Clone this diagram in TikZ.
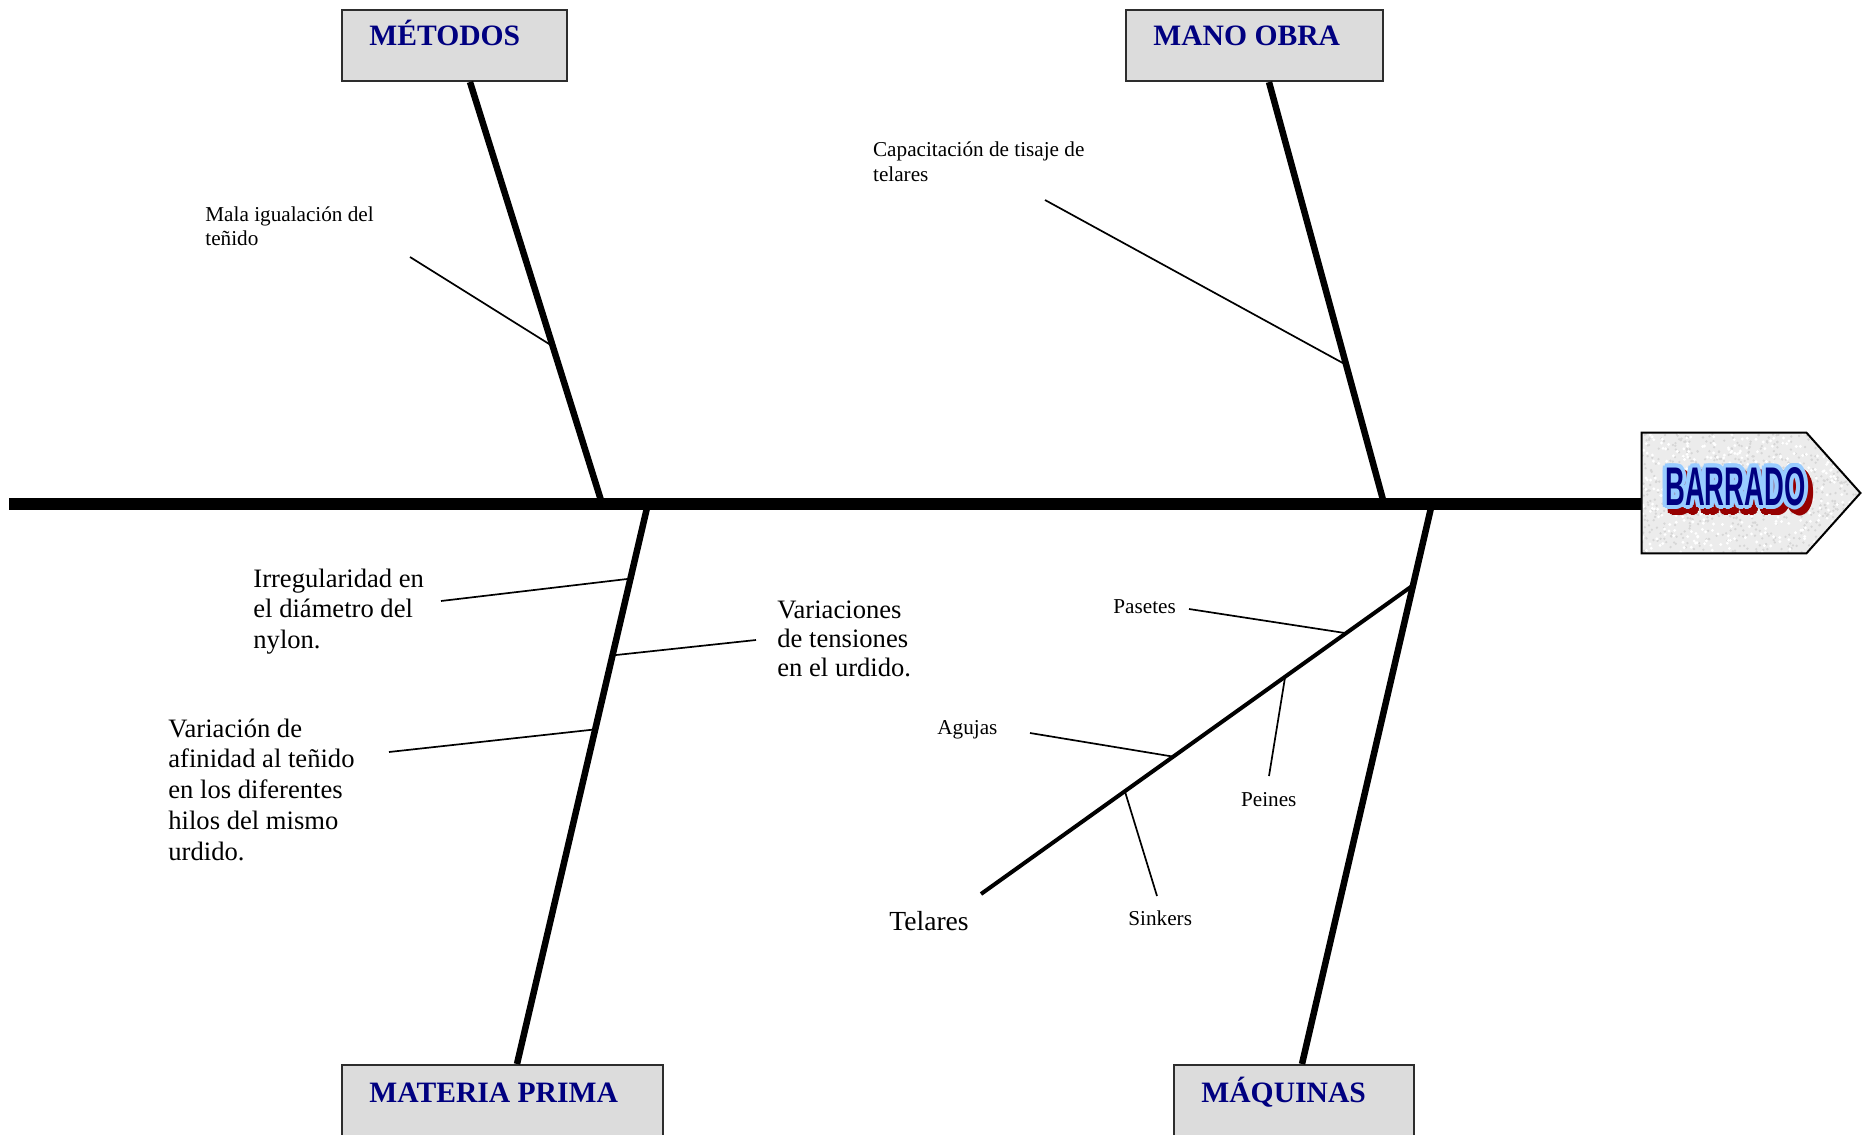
\documentclass[tikz,border=0pt]{standalone}
\usepackage{fontspec}
\usepackage{graphicx}
\setmainfont{Liberation Serif}
\newfontfamily\wafont{Liberation Sans}
\usetikzlibrary{calc}

\definecolor{catnavy}{RGB}{0,0,128}
\definecolor{boxgray}{RGB}{220,220,220}
\definecolor{boxedge}{RGB}{45,45,45}
\definecolor{waouter}{RGB}{153,204,255}
\definecolor{wared}{RGB}{150,0,0}
\definecolor{wanavy}{RGB}{0,0,128}
\definecolor{grain}{RGB}{236,236,236}

% lines of a label, first baseline is the box baseline
\newcommand\lns[1]{\vtop{\halign{##\hfil\cr#1\crcr}}}
% the effect word: condensed bold caps
\newcommand\barword{\resizebox{70pt}{19pt}{\wafont\bfseries BARRADO}}
% a ring of copies of the word, used for outline and drop shadow
\newcommand\waring[4]{\foreach \a in {0,30,...,330}{%
  \pgfmathsetlengthmacro\wdx{#2+#4*cos(\a)}%
  \pgfmathsetlengthmacro\wdy{#3+#4*sin(\a)}%
  \rlap{\hspace*{\wdx}\raisebox{\wdy}{\textcolor{#1}{\barword}}}}}

\tikzset{
  catbox/.style={draw=boxedge, line width=1pt, fill=boxgray, inner sep=0, anchor=north west},
  cattext/.style={text=catnavy, font=\fontsize{14.8pt}{16pt}\selectfont\bfseries, inner sep=0, anchor=base west},
  bigtext/.style={inner sep=0, anchor=base west, font=\fontsize{13.3pt}{15.3pt}\selectfont},
  smalltext/.style={inner sep=0, anchor=base west, font=\fontsize{10.6pt}{12pt}\selectfont},
  spine/.style={line width=6pt},
  bone/.style={line width=3.25pt},
  subbone/.style={line width=2pt},
  twig/.style={line width=0.85pt},
}

\begin{document}
\begin{tikzpicture}[x=0.5pt,y=-0.5pt]
\useasboundingbox (0,0) rectangle (1865,1135);
\clip (0,0) rectangle (1865,1135);

% category boxes
\node[catbox, minimum width=112.5pt, minimum height=35.5pt] (met) at (341,9) {};
\node[catbox, minimum width=128.3pt, minimum height=35.8pt] (mano) at (1125,8.5) {};
\node[catbox, minimum width=160.5pt, minimum height=50pt] (mat) at (341,1064) {};
\node[catbox, minimum width=120pt, minimum height=50pt] (maq) at (1173,1064) {};

\node[cattext] (metT) at (369,46) {MÉTODOS};
\node[cattext] (manoT) at (1153,46) {MANO OBRA};
\node[cattext] (matT) at (369,1102) {MATERIA PRIMA};
\node[cattext] (maqT) at (1201,1102) {MÁQUINAS};

% effect head
\node[inner sep=0, minimum width=109pt, minimum height=60pt] (bar) at (1751,493) {};
\begin{scope}
  \path[clip] (bar.north west) -- ($(bar.north east)+(-54,0)$) -- (bar.east)
     -- ($(bar.south east)+(-54,0)$) -- (bar.south west) -- cycle;
  \fill[grain] (bar.north west) rectangle (bar.south east);
  \pgfmathsetseed{11}
  \foreach \i in {1,...,700}{
    \fill[gray!32] ({1642+218*rnd},{433+120*rnd}) circle (1.3);
  }
  \foreach \i in {1,...,400}{
    \fill[white] ({1642+218*rnd},{433+120*rnd}) circle (1.6);
  }
\end{scope}
\draw[line width=1pt, line join=miter] (bar.north west) -- ($(bar.north east)+(-54,0)$) -- (bar.east)
   -- ($(bar.south east)+(-54,0)$) -- (bar.south west) -- cycle;
\node[anchor=base west, inner sep=0] (word) at (1665,505)
  {\waring{wared}{2.5pt}{-3pt}{2pt}\waring{waouter}{0pt}{0pt}{2pt}\textcolor{wanavy}{\barword}};

% bone ends
\coordinate (mt) at ($(met.south west)+(129,0)$);
\coordinate (nt) at ($(mano.south west)+(144,0)$);
\coordinate (pt) at ($(mat.north west)+(176,0)$);
\coordinate (qt) at ($(maq.north west)+(129,0)$);
\coordinate (tail) at (9,503.5);
\coordinate (mj) at (602,503.5);
\coordinate (nj) at (1384,503.5);
\coordinate (pj) at (648,503.5);
\coordinate (qj) at (1432,503.5);

% main bones
\draw[bone] (mt) -- (mj);
\draw[bone] (nt) -- (nj);
\draw[bone] (pj) -- (pt);
\draw[bone] (qj) -- (qt);

% spine
\draw[spine] (tail) -- (tail -| bar.west);

% telares branch
\coordinate (tt) at ($(qj)!0.146!(qt)$);
\coordinate (tb) at (981,894);
\draw[subbone] (tb) -- (tt);

% labels
\node[smalltext, font=\fontsize{10.6pt}{11.65pt}\selectfont] (mala) at (205,221.7)
  {\lns{Mala igualación del\cr teñido}};
\node[smalltext, font=\fontsize{10.6pt}{12.5pt}\selectfont] (capa) at (872.7,156.7)
  {\lns{Capacitación de tisaje de\cr telares}};
\node[bigtext, font=\fontsize{13.3pt}{15.25pt}\selectfont] (irr) at (253,587)
  {\lns{Irregularidad en\cr el diámetro del\cr nylon.}};
\node[bigtext, font=\fontsize{13.3pt}{14.6pt}\selectfont] (vten) at (777,618.3)
  {\lns{Variaciones\cr de tensiones\cr en el urdido.}};
\node[bigtext, font=\fontsize{13.3pt}{15.45pt}\selectfont] (vafi) at (168,737)
  {\lns{Variación de\cr afinidad al teñido\cr en los diferentes\cr hilos del mismo\cr urdido.}};
\node[bigtext, font=\fontsize{13.8pt}{15.3pt}\selectfont] (tel) at (889,930) {Telares};
\node[smalltext] (pas) at (1113,613) {Pasetes};
\node[smalltext] (agu) at (937,734) {Agujas};
\node[smalltext] (pei) at (1240.7,806) {Peines};
\node[smalltext] (sin) at (1128,925) {Sinkers};

% cause twigs
\coordinate (malaE) at (410,257);
\coordinate (capaE) at (1045,200);
\coordinate (irrE) at (441,601);
\coordinate (vtenE) at (756,640);
\coordinate (vafiE) at (389,752);
\coordinate (pasE) at (1189,609);
\coordinate (aguE) at (1030,733);
\coordinate (peiE) at (1269,776);
\coordinate (sinE) at (1157,896);

\draw[twig] (malaE) -- ($(mt)!0.627!(mj)$);
\draw[twig] (capaE) -- ($(nt)!0.671!(nj)$);
\draw[twig] (irrE) -- ($(pj)!0.134!(pt)$);
\draw[twig] (vtenE) -- ($(pj)!0.271!(pt)$);
\draw[twig] (vafiE) -- ($(pj)!0.403!(pt)$);
\draw[twig] (pasE) -- ($(tb)!0.845!(tt)$);
\draw[twig] (aguE) -- ($(tb)!0.445!(tt)$);
\draw[twig] (peiE) -- ($(tb)!0.704!(tt)$);
\draw[twig] (sinE) -- ($(tb)!0.333!(tt)$);
\end{tikzpicture}
\end{document}
